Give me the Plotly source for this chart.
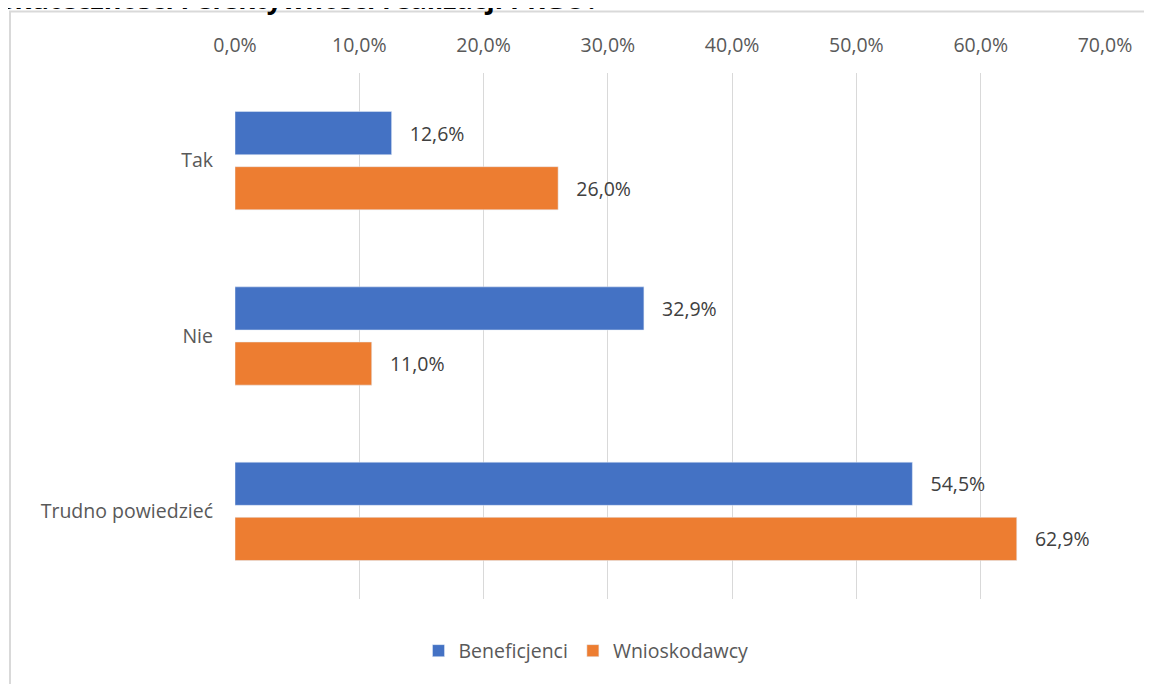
import plotly.graph_objects as go

categories = ["Tak", "Nie", "Trudno powiedzieć"]
beneficjenci = [12.6, 32.9, 54.5]
wnioskodawcy = [26.0, 11.0, 62.9]
tick_vals = [0, 10, 20, 30, 40, 50, 60, 70]
tick_text = ["0,0%", "10,0%", "20,0%", "30,0%", "40,0%", "50,0%", "60,0%", "70,0%"]
title_text = "skuteczności i efektywności realizacji PRGO?"

# the page has an 8px body margin; the figure starts at (8, 8)
OFF = 8
W, H = 1152 - OFF, 684 - OFF
ML, MR, MT, MB = 235 - OFF, 1152 - 1105, 72.5 - OFF, 684 - 599
pw, ph = W - ML - MR, H - MT - MB

def fmt(v):
    return "   " + f"{v:.1f}".replace(".", ",") + "%"

FONT = "Open Sans"
FS = 19.5

def px_x(p):  # page pixel -> paper x
    return (p - OFF - ML) / pw

def px_y(p):  # page pixel -> paper y
    return 1 - (p - OFF - MT) / ph

fig = go.Figure()
fig.add_trace(go.Bar(
    y=categories, x=beneficjenci, orientation="h", name="Beneficjenci",
    marker_color="#4472C4", text=[fmt(v) for v in beneficjenci],
    textposition="outside", textfont=dict(size=FS, color="#404040", family=FONT),
    cliponaxis=False,
))
fig.add_trace(go.Bar(
    y=categories, x=wnioskodawcy, orientation="h", name="Wnioskodawcy",
    marker_color="#ED7D31", text=[fmt(v) for v in wnioskodawcy],
    textposition="outside", textfont=dict(size=FS, color="#404040", family=FONT),
    cliponaxis=False,
))

fig.update_layout(
    width=W, height=H,
    margin=dict(l=ML, r=MR, t=MT, b=MB, autoexpand=False),
    paper_bgcolor="white", plot_bgcolor="white",
    font=dict(family=FONT, size=FS, color="#595959"),
    barmode="group", bargap=0.371, bargroupgap=0.218,
    xaxis=dict(
        range=[0, 70], side="top", tickvals=tick_vals, ticktext=tick_text,
        showgrid=True, gridcolor="#d9d9d9", gridwidth=1.3, zeroline=False,
        showline=False, ticks="", ticklabelstandoff=16,
        tickfont=dict(size=FS, color="#595959"), fixedrange=True,
    ),
    yaxis=dict(
        autorange="reversed", showgrid=False, showline=False, ticks="",
        ticklabelstandoff=21, tickfont=dict(size=FS, color="#595959"),
    ),
    legend=dict(
        orientation="h", x=px_x(586), xanchor="center",
        y=px_y(651), yanchor="middle", font=dict(size=FS, color="#595959"),
        itemwidth=30, bgcolor="rgba(0,0,0,0)",
    ),
    showlegend=True,
)

# chart-area border (only left and top edges are visible in the frame)
fig.add_shape(type="line", xref="paper", yref="paper",
              x0=px_x(10), x1=px_x(10), y0=px_y(11), y1=px_y(700),
              line=dict(color="#d9d9d9", width=2), layer="below")
fig.add_shape(type="line", xref="paper", yref="paper",
              x0=px_x(9), x1=px_x(1170), y0=px_y(11), y1=px_y(11),
              line=dict(color="#d9d9d9", width=2), layer="below")

fig.add_annotation(text="<b>" + title_text + "</b>", xref="paper", yref="paper",
                   x=px_x(-1), y=px_y(18), xanchor="left", yanchor="bottom",
                   showarrow=False, font=dict(size=27, color="#000000", family=FONT))

fig.write_html("out.html")
